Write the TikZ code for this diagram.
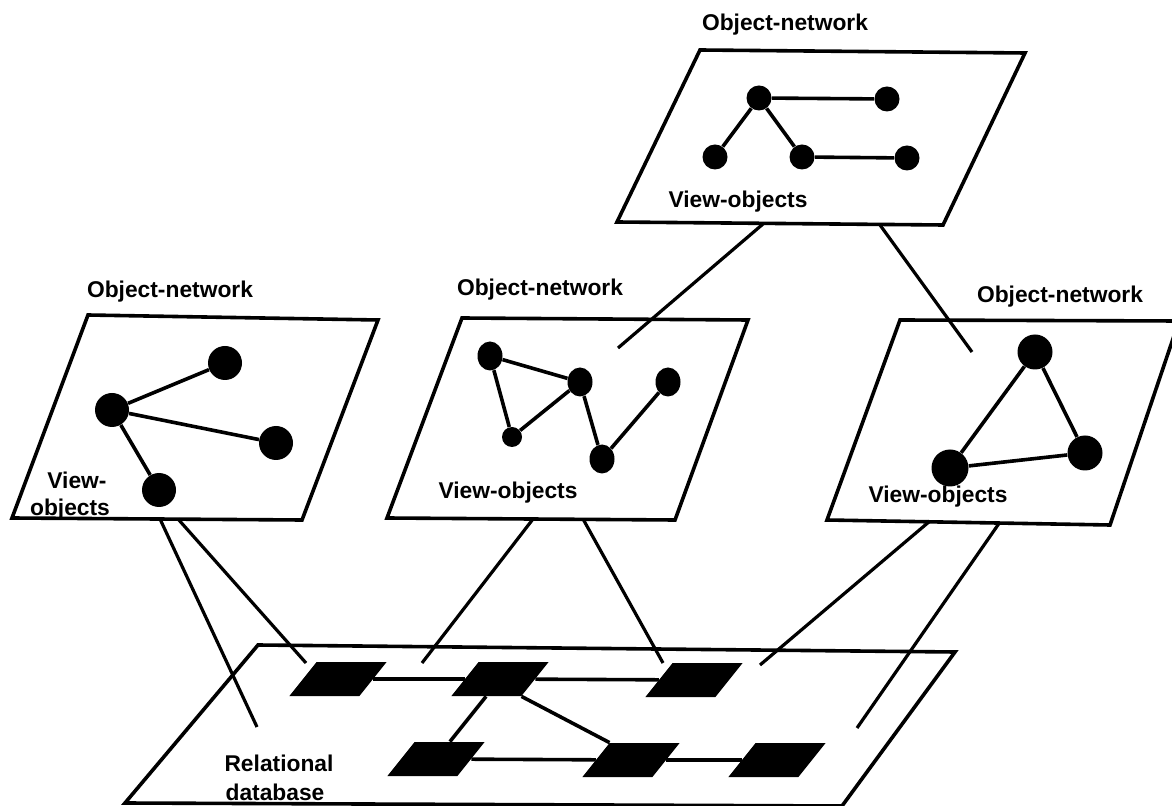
\documentclass[tikz,border=0pt]{standalone}
\usepackage{fontspec}
\setmainfont{Liberation Sans}
\usetikzlibrary{shapes.geometric}
\begin{document}
\begin{tikzpicture}[x=0.5pt,y=-0.5pt,
  panel/.style={line width=1.8pt, line join=miter},
  link/.style={line width=1.6pt},
  edge/.style={line width=1.8pt},
  dotS/.style={circle, fill=black, inner sep=0pt, minimum size=12.5pt},
  dotL/.style={circle, fill=black, inner sep=0pt, minimum size=17pt},
  dotE/.style={ellipse, fill=black, inner sep=0pt, minimum width=12.5pt, minimum height=14.5pt},
  dotT/.style={circle, fill=black, inner sep=0pt, minimum size=10pt},
  lbl/.style={font=\bfseries\fontsize{11.4}{14}\selectfont, inner sep=0pt},
  dbrect/.style={rectangle, fill=black, inner sep=0pt, minimum width=35pt, minimum height=17pt, xslant=0.8, transform shape},
]
\useasboundingbox (0,0) rectangle (1172,806);
\clip (0,0) rectangle (1172,806);

% ---- panels (corners) ----
\coordinate (tA) at (700,50);  \coordinate (tB) at (1025,53);
\coordinate (tC) at (943,225); \coordinate (tD) at (617,222);
\coordinate (lA) at (88,315);  \coordinate (lB) at (378,320);
\coordinate (lC) at (302,520); \coordinate (lD) at (12,518);
\coordinate (mA) at (462,318); \coordinate (mB) at (748,320);
\coordinate (mC) at (675,520); \coordinate (mD) at (387,518);
\coordinate (rA) at (900,320); \coordinate (rB) at (1179,321);
\coordinate (rC) at (1110,525); \coordinate (rD) at (827,520);
\coordinate (bA) at (258,645); \coordinate (bB) at (955,652);
\coordinate (bC) at (842,806); \coordinate (bD) at (125,803);

\draw[panel] (tA) -- (tB) -- (tC) -- (tD) -- cycle;
\draw[panel] (lA) -- (lB) -- (lC) -- (lD) -- cycle;
\draw[panel] (mA) -- (mB) -- (mC) -- (mD) -- cycle;
\draw[panel] (rA) -- (rB) -- (rC) -- (rD) -- cycle;
\draw[panel] (bA) -- (bB) -- (bC) -- (bD) -- cycle;

% ---- labels ----
\node[lbl] (tOn) at (785,25) {Object-network};
\node[lbl] (tVo) at (738,202) {View-objects};
\node[lbl] (lOn) at (170,292) {Object-network};
\node[lbl] (lVo1) at (77,480) {View-};
\node[lbl] (lVo2) at (70,510) {objects};
\node[lbl] (mOn) at (540,290) {Object-network};
\node[lbl] (mVo) at (508,493) {View-objects};
\node[lbl] (rOn) at (1060,297) {Object-network};
\node[lbl] (rVo) at (938,497) {View-objects};
\node[lbl] (bR1) at (279,763) {Relational};
\node[lbl] (bR2) at (275,792) {database};

% ---- top network ----
\node[dotS] (t1) at (759,98) {};
\node[dotS] (t2) at (887,99) {};
\node[dotS] (t3) at (715,157) {};
\node[dotS] (t4) at (802,157) {};
\node[dotS] (t5) at (907,158) {};
\draw[edge] (t1) -- (t2);
\draw[edge] (t1) -- (t3);
\draw[edge] (t1) -- (t4);
\draw[edge] (t4) -- (t5);

% ---- left network ----
\node[dotL] (l1) at (225,363) {};
\node[dotL] (l2) at (112,410) {};
\node[dotL] (l3) at (276,443) {};
\node[dotL] (l4) at (159,490) {};
\draw[edge] (l2) -- (l1);
\draw[edge] (l2) -- (l3);
\draw[edge] (l2) -- (l4);

% ---- middle network ----
\node[dotE] (m1) at (490,356) {};
\node[dotE] (m2) at (580,382) {};
\node[dotE] (m3) at (668,382) {};
\node[dotT] (m4) at (512,437) {};
\node[dotE] (m5) at (602,459) {};
\draw[edge] (m1) -- (m2);
\draw[edge] (m1) -- (m4);
\draw[edge] (m4) -- (m2);
\draw[edge] (m2) -- (m5);
\draw[edge] (m5) -- (m3);

% ---- right network ----
\node[dotL, minimum size=17.5pt] (r1) at (1035,352) {};
\node[dotL, minimum size=17.5pt] (r2) at (1085,453) {};
\node[dotL, minimum size=18.5pt] (r3) at (950,468) {};
\draw[edge] (r1) -- (r2);
\draw[edge] (r1) -- (r3);
\draw[edge] (r3) -- (r2);

% ---- relational database ----
\node[dbrect] (d1) at (338,679) {};
\node[dbrect] (d2) at (500,679) {};
\node[dbrect] (d3) at (694,680) {};
\node[dbrect] (d4) at (436,759) {};
\node[dbrect] (d5) at (631,760) {};
\node[dbrect] (d6) at (777,760) {};
\draw[edge] (d1) -- (d2);
\draw[edge] (d2) -- (d3);
\draw[edge] (d4) -- (d5);
\draw[edge] (d5) -- (d6);
\draw[edge] (d2.south) -- (d4.north);
\draw[edge] (d2.south east) -- (d5.north west);

% ---- links between levels ----
\coordinate (s1) at (763,224);  \coordinate (e1) at (618,348);
\coordinate (s2) at (880,225);  \coordinate (e2) at (972,352);
\coordinate (s3) at (160,519);  \coordinate (e3) at (257,727);
\coordinate (s4) at (178,519);  \coordinate (e4) at (306,663);
\coordinate (s5) at (533,519);  \coordinate (e5) at (422,663);
\coordinate (s6) at (583,519);  \coordinate (e6) at (663,663);
\coordinate (s7) at (930,521);  \coordinate (e7) at (760,665);
\coordinate (s8) at (1000,522); \coordinate (e8) at (857,728);
\foreach \i in {1,...,8} \draw[link] (s\i) -- (e\i);
\end{tikzpicture}
\end{document}
